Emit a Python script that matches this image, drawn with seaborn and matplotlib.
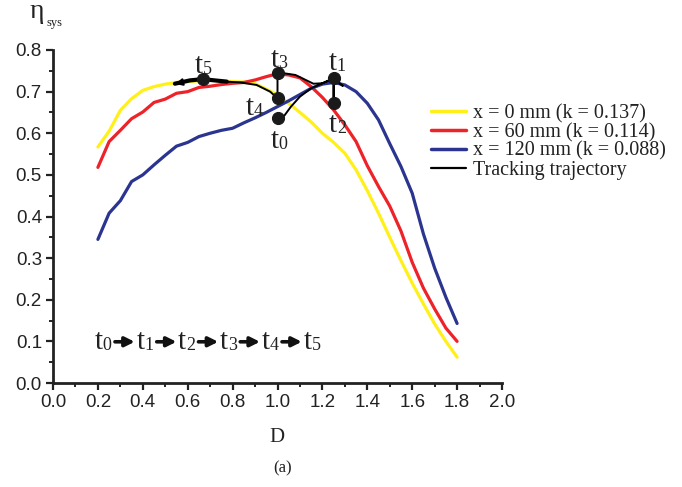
import matplotlib
matplotlib.use("Agg")
import matplotlib.pyplot as plt
from matplotlib.lines import Line2D
from matplotlib.ticker import MultipleLocator, FormatStrFormatter
import numpy as np
import pandas as pd
import seaborn as sns

# Misalignment parameter D and system efficiency for three lateral offsets
D = [0.20, 0.25, 0.30, 0.35, 0.40, 0.45, 0.50, 0.55, 0.60, 0.65, 0.70,
     0.75, 0.80, 0.85, 0.90, 0.95, 1.00, 1.05, 1.10, 1.15, 1.20, 1.25,
     1.30, 1.35, 1.40, 1.45, 1.50, 1.55, 1.60, 1.65, 1.70, 1.75, 1.80]
eta_x0 = [0.567, 0.605, 0.655, 0.683, 0.703, 0.712, 0.718, 0.722, 0.724, 0.726, 0.727,
          0.726, 0.724, 0.723, 0.719, 0.706, 0.692, 0.672, 0.650, 0.627, 0.600, 0.578,
          0.552, 0.512, 0.462, 0.408, 0.350, 0.294, 0.240, 0.190, 0.142, 0.100, 0.062]
eta_x60 = [0.518, 0.580, 0.607, 0.635, 0.651, 0.674, 0.682, 0.696, 0.700, 0.710, 0.713,
           0.717, 0.720, 0.722, 0.728, 0.736, 0.743, 0.740, 0.733, 0.712, 0.686, 0.656,
           0.620, 0.580, 0.522, 0.472, 0.425, 0.365, 0.290, 0.228, 0.178, 0.132, 0.100]
eta_x120 = [0.345, 0.408, 0.438, 0.484, 0.500, 0.524, 0.547, 0.569, 0.578, 0.592, 0.600,
            0.607, 0.612, 0.625, 0.637, 0.650, 0.664, 0.678, 0.693, 0.708, 0.718, 0.722,
            0.716, 0.700, 0.672, 0.632, 0.575, 0.520, 0.456, 0.358, 0.276, 0.206, 0.143]
series_labels = ["x = 0 mm (k = 0.137)", "x = 60 mm (k = 0.114)", "x = 120 mm (k = 0.088)"]
series_colors = ["#FFF01A", "#EE2229", "#2B3590"]

# Tracking states t0..t5
state_names = ["0", "1", "2", "3", "4", "5"]
state_D = [1.00, 1.25, 1.25, 1.00, 1.00, 0.667]
state_eta = [0.636, 0.732, 0.672, 0.745, 0.684, 0.730]

# Tracking trajectory path (t0 -> t1 -> t2 -> t1 -> t3 -> t4 -> t5)
traj_D = [1.00, 1.03, 1.06, 1.10, 1.15, 1.20, 1.25, 1.25, 1.25, 1.29, 1.25,
          1.20, 1.16, 1.08, 1.03, 1.00, 1.00, 0.967, 0.907, 0.833, 0.774]
traj_eta = [0.636, 0.642, 0.664, 0.688, 0.708, 0.720, 0.732, 0.672, 0.732, 0.714, 0.732,
            0.720, 0.719, 0.740, 0.744, 0.745, 0.684, 0.700, 0.716, 0.722, 0.724]
# Last, heavier stretch of the trajectory around t5
tail_D = [0.774, 0.72, 0.667, 0.61, 0.543]
tail_eta = [0.724, 0.727, 0.730, 0.727, 0.719]

sns.set_theme(style="ticks")
plt.rcParams["font.family"] = ["Liberation Sans", "DejaVu Sans"]
SERIF = ["Liberation Serif", "DejaVu Serif"]
INK = "#222222"

fig = plt.figure(figsize=(6.82, 4.87), dpi=100)
ax = fig.add_axes([53 / 682, 1 - 383 / 487, (502 - 53) / 682, (383 - 50) / 487])

df = pd.DataFrame({
    "D": D * 3,
    "eta": eta_x0 + eta_x60 + eta_x120,
    "series": [series_labels[0]] * len(D) + [series_labels[1]] * len(D) + [series_labels[2]] * len(D),
})
sns.lineplot(data=df, x="D", y="eta", hue="series", hue_order=series_labels,
             palette=series_colors, linewidth=2.3, legend=False, ax=ax,
             estimator=None, sort=False)

traj = pd.DataFrame({"D": traj_D, "eta": traj_eta})
sns.lineplot(data=traj, x="D", y="eta", color="black", linewidth=1.4,
             sort=False, estimator=None, ax=ax)
tail = pd.DataFrame({"D": tail_D, "eta": tail_eta})
sns.lineplot(data=tail, x="D", y="eta", color="black", linewidth=3.0,
             sort=False, estimator=None, ax=ax)
ax.annotate("", xy=(tail_D[-1] - 0.01, tail_eta[-1] - 0.002),
            xytext=(tail_D[-2], tail_eta[-2]),
            arrowprops=dict(arrowstyle="-|>", color="black", lw=1.5, mutation_scale=10))

states = pd.DataFrame({"D": state_D, "eta": state_eta})
sns.scatterplot(data=states, x="D", y="eta", color="#1a1a1a", s=75,
                edgecolor="#1a1a1a", linewidth=0.8, zorder=5, ax=ax)


def state_label(x, y, digit):
    """Draw 't' followed by a smaller digit, Times-style, at (x, y) baseline."""
    ax.text(x, y, "t", family=SERIF, fontsize=21, ha="left",
            va="baseline", color=INK)
    ax.annotate(digit, xy=(x, y), xytext=(5.9, -0.8), textcoords="offset points",
                family=SERIF, fontsize=13, ha="left", va="baseline", color=INK)


# State labels next to the markers (baseline positions)
label_pos = {"0": (0.968, 0.565), "1": (1.228, 0.753), "2": (1.228, 0.603),
             "3": (0.968, 0.759), "4": (0.858, 0.645), "5": (0.630, 0.744)}
for name in state_names:
    x, y = label_pos[name]
    state_label(x, y, name)

# Sequence of states along the bottom
seq_x0, seq_step, seq_y = 0.185, 0.186, 0.081
for i, name in enumerate(state_names):
    state_label(seq_x0 + i * seq_step, seq_y, name)
    if i < len(state_names) - 1:
        ax.annotate("", xy=(0.364 + i * seq_step, 0.099),
                    xytext=(0.276 + i * seq_step, 0.099),
                    arrowprops=dict(arrowstyle="-|>", color="#111111", lw=2.6,
                                    mutation_scale=14, shrinkA=0, shrinkB=0))

ax.set_xlim(0, 2.0)
ax.set_ylim(0, 0.8)
ax.xaxis.set_major_locator(MultipleLocator(0.2))
ax.xaxis.set_minor_locator(MultipleLocator(0.1))
ax.yaxis.set_major_locator(MultipleLocator(0.1))
ax.yaxis.set_minor_locator(MultipleLocator(0.05))
ax.xaxis.set_major_formatter(FormatStrFormatter("%.1f"))
ax.yaxis.set_major_formatter(FormatStrFormatter("%.1f"))
ax.tick_params(axis="both", which="major", direction="out", length=5, width=1.6,
               labelsize=13.5, color=INK, labelcolor=INK, pad=3)
ax.tick_params(axis="both", which="minor", direction="out", length=3, width=1.4,
               color=INK)
ax.set_xlabel("")
ax.set_ylabel("")
for side in ["top", "right"]:
    ax.spines[side].set_visible(False)
for side in ["left", "bottom"]:
    ax.spines[side].set_linewidth(2.0)
    ax.spines[side].set_color(INK)
ax.set_facecolor("white")
ax.grid(False)

fig.text(277 / 682, 1 - 442 / 487, "D", family=SERIF, fontsize=15,
         ha="center", va="baseline", color=INK)
fig.text(283 / 682, 1 - 472 / 487, "(a)", family=SERIF, fontsize=12,
         ha="center", va="baseline", color=INK)
fig.text(30 / 682, 1 - 18 / 487, "η", family=SERIF, fontsize=20,
         ha="left", va="baseline", color=INK)
fig.text(47 / 682, 1 - 26 / 487, "sys", family=SERIF, fontsize=9,
         ha="left", va="baseline", color=INK)

handles = [Line2D([], [], color=c, lw=2.5) for c in series_colors]
handles.append(Line2D([], [], color="black", lw=1.6))
fig.legend(handles, series_labels + ["Tracking trajectory"],
           loc="upper left", bbox_to_anchor=(431 / 682, 1 - 104 / 487),
           frameon=False, borderpad=0, borderaxespad=0, handlelength=1.75,
           handletextpad=0.35, labelspacing=-0.02,
           prop={"family": SERIF, "size": 14.5}, labelcolor=INK)

fig.savefig("out.png", dpi=100, facecolor="white")
